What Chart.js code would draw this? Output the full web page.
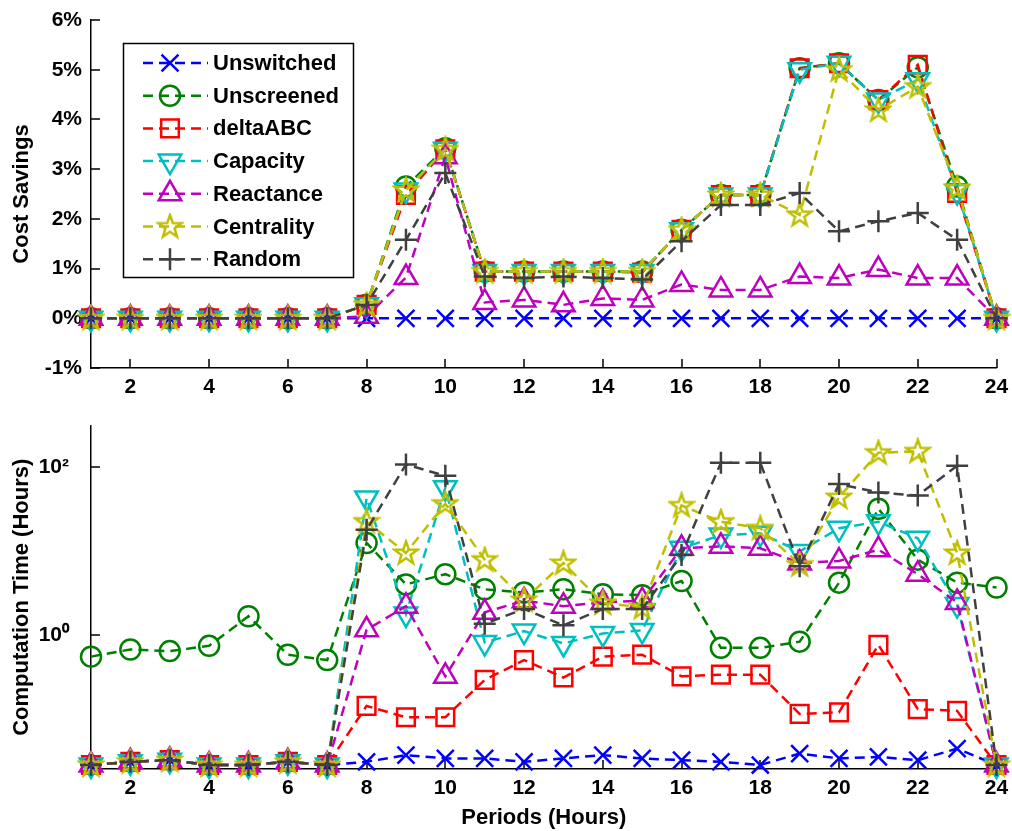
<!DOCTYPE html>
<html><head><meta charset="utf-8">
<script src="https://cdn.jsdelivr.net/npm/chart.js@4.4.1/dist/chart.umd.min.js"></script>
<style>
html,body{margin:0;padding:0;background:#fff;}
#c1{position:absolute;left:0;top:0;}
#c2{position:absolute;left:0;top:410px;}
</style>
</head><body>
<canvas id="c1" width="1012" height="410"></canvas>
<canvas id="c2" width="1012" height="421"></canvas>
<script>
// ---------- data ----------
const periods = [1,2,3,4,5,6,7,8,9,10,11,12,13,14,15,16,17,18,19,20,21,22,23,24];
const xTickValues = [2,4,6,8,10,12,14,16,18,20,22,24];
const savingTicks = [-1,0,1,2,3,4,5,6];
const timeTicks = [1,100];
const seriesNames = ['Unswitched','Unscreened','deltaABC','Capacity','Reactance','Centrality','Random'];

// Cost savings (%)
const saveUnswitched = [0,0,0,0,0,0,0,0,0,0,0,0,0,0,0,0,0,0,0,0,0,0,0,0];
const saveUnscreened = [0,0,0,0,0,0,0,0.27,2.65,3.42,0.94,0.94,0.94,0.94,0.94,1.78,2.48,2.48,5.03,5.13,4.39,5.05,2.65,0];
const saveDeltaABC   = [0,0,0,0,0,0,0,0.27,2.48,3.40,0.94,0.94,0.94,0.94,0.92,1.78,2.48,2.48,5.03,5.13,4.39,5.10,2.52,0];
const saveCapacity   = [0,0,0,0,0,0,0,0.27,2.58,3.40,0.94,0.94,0.94,0.94,0.94,1.78,2.48,2.48,5.00,5.13,4.39,4.80,2.55,0];
const saveReactance  = [0,0,0,0,0,0,0,0.04,0.82,3.25,0.32,0.37,0.27,0.40,0.37,0.68,0.57,0.57,0.84,0.81,0.98,0.81,0.81,0];
const saveCentrality = [0,0,0,0,0,0,0,0.27,2.58,3.40,0.94,0.94,0.94,0.94,0.94,1.78,2.48,2.48,2.08,5.00,4.19,4.66,2.62,0];
const saveRandom     = [0,0,0,0,0,0,0,0.27,1.58,2.92,0.84,0.81,0.84,0.81,0.78,1.55,2.28,2.28,2.52,1.75,1.95,2.12,1.58,0];

// Computation time (hours)
const timeUnswitched = [0.028,0.0306,0.032,0.028,0.028,0.0306,0.028,0.0306,0.0367,0.0336,0.0336,0.0306,0.0336,0.0367,0.0336,0.032,0.0306,0.028,0.0384,0.0336,0.035,0.032,0.044,0.028];
const timeUnscreened = [0.55,0.67,0.64,0.74,1.67,0.58,0.50,12.5,4.0,5.3,3.5,3.2,3.5,3.06,2.98,4.4,0.70,0.70,0.83,4.2,32,7.9,4.2,3.67];
const timeDeltaABC   = [0.028,0.0306,0.032,0.028,0.028,0.0306,0.028,0.142,0.104,0.104,0.29,0.50,0.31,0.55,0.58,0.32,0.335,0.335,0.114,0.119,0.76,0.13,0.124,0.028];
const timeCapacity   = [0.028,0.0306,0.032,0.028,0.028,0.0306,0.028,43,1.78,57,0.81,1.11,0.79,1.04,1.13,10.8,15.5,16.3,9.9,18.7,22.4,14.2,2.3,0.028];
const timeReactance  = [0.028,0.0306,0.032,0.028,0.028,0.0306,0.028,1.15,2.2,0.32,1.86,2.56,2.2,2.44,2.56,10.8,11.4,10.8,7.2,7.6,10.4,5.3,2.44,0.028];
const timeCentrality = [0.028,0.0306,0.032,0.028,0.028,0.0306,0.028,22.5,9.5,36.7,7.9,2.6,7.2,2.4,2.13,35,22.4,18.7,6.9,44,149,155,9.5,0.028];
const timeRandom     = [0.028,0.0306,0.032,0.028,0.028,0.0306,0.028,18,108,79,1.36,2.04,1.3,2.04,2.04,9.0,113,113,6.6,63,50,46,104,0.028];

// ---------- styles ----------
const FONT = "'Liberation Sans', Arial, sans-serif";
function makeStar(color){
  const c = document.createElement('canvas'); c.width = 28; c.height = 28;
  const g = c.getContext('2d'); g.strokeStyle = color; g.lineWidth = 2.5; g.lineJoin='miter';
  g.beginPath();
  for(let k=0;k<10;k++){
    const r = (k%2===0)?12:4.8; const a = -Math.PI/2 + k*Math.PI/5;
    const px = 14 + r*Math.cos(a), py = 14.5 + r*Math.sin(a);
    if(k===0) g.moveTo(px,py); else g.lineTo(px,py);
  }
  g.closePath(); g.stroke();
  return c;
}
const styles = [
  {color:'#0000ff', pointStyle:'crossRot', radius:12, rotation:0},
  {color:'#008000', pointStyle:'circle',   radius:10, rotation:0},
  {color:'#ff0000', pointStyle:'rect',     radius:12.5, rotation:0},
  {color:'#00bfbf', pointStyle:'triangle', radius:13, rotation:180},
  {color:'#bf00bf', pointStyle:'triangle', radius:13, rotation:0},
  {color:'#bfbf00', pointStyle:makeStar('#bfbf00'), radius:12, rotation:0},
  {color:'#404040', pointStyle:'cross',    radius:11, rotation:0}
];

function buildDatasets(arrays){
  return arrays.map((arr,i)=>({
    label: seriesNames[i],
    data: periods.map((p,j)=>({x:p, y:arr[j]})),
    borderColor: styles[i].color,
    backgroundColor: 'rgba(0,0,0,0)',
    borderWidth: 2.5,
    borderDash: [10,6],
    pointStyle: styles[i].pointStyle,
    pointRadius: styles[i].radius,
    pointRotation: styles[i].rotation,
    pointBorderColor: styles[i].color,
    pointBackgroundColor: 'rgba(0,0,0,0)',
    pointBorderWidth: 2.5,
    tension: 0,
    clip: false,
    order: 10 - i
  }));
}

const inTicks = {
  id: 'inTicks',
  beforeDatasetsDraw(chart){
    const {ctx, chartArea:a} = chart; const xs = chart.scales.x, ys = chart.scales.y;
    ctx.save(); ctx.strokeStyle = '#000'; ctx.lineWidth = 1.5; ctx.beginPath();
    xs.ticks.forEach(t=>{ const px = Math.round(xs.getPixelForValue(t.value)); ctx.moveTo(px, a.bottom); ctx.lineTo(px, a.bottom-9); });
    ys.ticks.forEach(t=>{ const py = Math.round(ys.getPixelForValue(t.value)); ctx.moveTo(a.left, py); ctx.lineTo(a.left+9, py); });
    ctx.stroke(); ctx.restore();
  }
};

const legendPlugin = {
  id: 'boxLegend',
  afterDatasetsDraw(chart){
    const ctx = chart.ctx;
    ctx.save();
    ctx.fillStyle = '#fff'; ctx.fillRect(123,43,231,235);
    ctx.strokeStyle = '#000'; ctx.lineWidth = 1.5; ctx.setLineDash([]);
    ctx.strokeRect(123.5,43.5,230,234);
    seriesNames.forEach((name,i)=>{
      const y = 63 + i*32.7; const st = styles[i];
      ctx.strokeStyle = st.color; ctx.lineWidth = 2.5; ctx.setLineDash([10,6]);
      ctx.beginPath(); ctx.moveTo(143,y); ctx.lineTo(208,y); ctx.stroke();
      ctx.setLineDash([]);
      ctx.fillStyle = 'rgba(0,0,0,0)'; ctx.strokeStyle = st.color; ctx.lineWidth = 2.5;
      Chart.helpers.drawPoint(ctx, {pointStyle: st.pointStyle, rotation: st.rotation, radius: st.radius, borderWidth: 2.5}, 170, y);
      ctx.fillStyle = '#000'; ctx.font = 'bold 22px ' + FONT; ctx.textBaseline = 'middle'; ctx.textAlign = 'left';
      ctx.fillText(name, 213, y+1);
    });
    ctx.restore();
  }
};

function xScale(showTitle){
  return {
    type:'linear', min:1, max:24,
    afterBuildTicks: s => { s.ticks = xTickValues.map(v=>({value:v})); },
    afterFit: s => { s.height = showTitle ? 62 : 42; s.paddingLeft = 0; s.paddingRight = 0; },
    grid:{display:false, drawTicks:false},
    border:{display:true, color:'#000', width:1.5},
    ticks:{autoSkip:false, maxRotation:0, padding:7, color:'#000', font:{family:FONT, size:21, weight:'bold'}, callback:v=>String(v)},
    title:{display:showTitle, text:'Periods (Hours)', color:'#000', font:{family:FONT, size:22, weight:'bold'}, padding:{top:0,bottom:0}}
  };
}

Chart.defaults.animation = false;

new Chart(document.getElementById('c1'), {
  type:'line',
  data:{datasets: buildDatasets([saveUnswitched,saveUnscreened,saveDeltaABC,saveCapacity,saveReactance,saveCentrality,saveRandom])},
  options:{
    responsive:false, devicePixelRatio:1, animation:false, events:[],
    layout:{padding:{top:20,right:10,left:0,bottom:0}},
    plugins:{legend:{display:false}, tooltip:{enabled:false}},
    scales:{
      x: xScale(false),
      y: {
        type:'linear', min:-1, max:6,
        afterBuildTicks: s => { s.ticks = savingTicks.map(v=>({value:v})); },
        afterFit: s => { s.width = 91; s.paddingTop = 0; s.paddingBottom = 0; },
        grid:{display:false, drawTicks:false},
        border:{display:true, color:'#000', width:1.5},
        ticks:{padding:9, color:'#000', font:{family:FONT, size:21, weight:'bold'}, callback:v=>v+'%'},
        title:{display:true, text:'Cost Savings', color:'#000', font:{family:FONT, size:22, weight:'bold'}, padding:{top:9,bottom:0}}
      }
    }
  },
  plugins:[inTicks, legendPlugin]
});

new Chart(document.getElementById('c2'), {
  type:'line',
  data:{datasets: buildDatasets([timeUnswitched,timeUnscreened,timeDeltaABC,timeCapacity,timeReactance,timeCentrality,timeRandom])},
  options:{
    responsive:false, devicePixelRatio:1, animation:false, events:[],
    layout:{padding:{top:11,right:10,left:0,bottom:0}},
    plugins:{legend:{display:false}, tooltip:{enabled:false}},
    scales:{
      x: xScale(true),
      y: {
        type:'logarithmic', min:0.0251, max:315,
        afterBuildTicks: s => { s.ticks = timeTicks.map(v=>({value:v})); },
        afterFit: s => { s.width = 91; s.paddingTop = 0; s.paddingBottom = 0; },
        grid:{display:false, drawTicks:false},
        border:{display:true, color:'#000', width:1.5},
        ticks:{padding:22, color:'#000', font:{family:FONT, size:21, weight:'bold'}, callback:v=> v===100 ? '10\u00B2' : (v===1 ? '10\u2070' : '')},
        title:{display:true, text:'Computation Time (Hours)', color:'#000', font:{family:FONT, size:22, weight:'bold'}, padding:{top:9,bottom:0}}
      }
    }
  },
  plugins:[inTicks]
});
</script>
</body></html>
